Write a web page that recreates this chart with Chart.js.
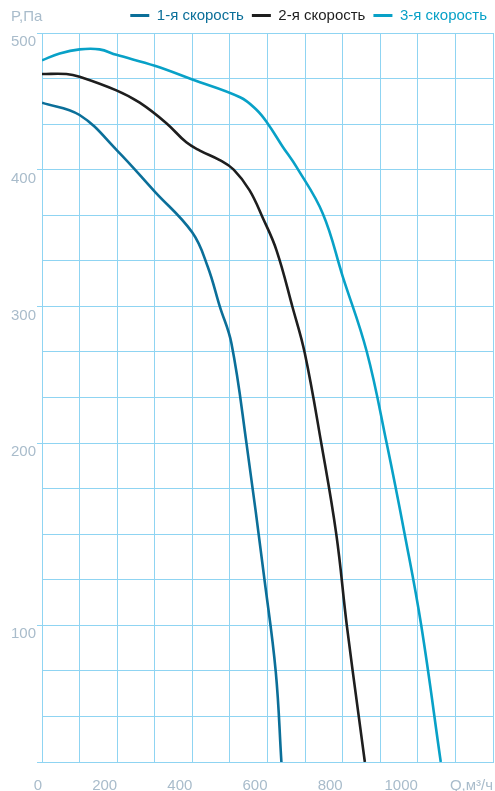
<!DOCTYPE html>
<html>
<head>
<meta charset="utf-8">
<script src="https://cdn.jsdelivr.net/npm/chart.js@4"></script>
<style>
  html, body { margin: 0; padding: 0; background: #fff; }
  #wrap { width: 495px; height: 791px; }
</style>
</head>
<body>
<div id="wrap"><canvas id="chart"></canvas></div>
<script>
// Series names and colours
const seriesNames = ['1-я скорость', '2-я скорость', '3-я скорость'];
const seriesColors = ['#0b6f99', '#1e1e1e', '#08a1c7'];

// Q, м³/ч and P, Па
const speed1Q = [0, 100, 200, 300, 400, 441, 473, 504, 544, 592, 622, 637];
const speed1P = [449, 440, 414, 384, 354, 329, 300, 273, 200, 125, 66, 0];

const speed2Q = [0, 65, 100, 198, 260, 331, 384, 420, 473, 510, 552, 587, 624, 667, 699, 743, 783, 811, 843, 859];
const speed2P = [470, 470, 468, 458, 449, 434, 420, 414, 407, 400, 385, 365, 341, 299, 266, 200, 150, 100, 33, 0];

const speed3Q = [0, 47, 100, 153, 198, 300, 400, 527, 570, 600, 640, 677, 747, 800, 864, 917, 965, 1009, 1061];
const speed3P = [480, 485, 488, 488, 484, 476, 466, 453, 444, 434, 417, 402, 368, 322, 267, 200, 150, 100, 0];

// The pressure axis of the original is not uniform: labelled values sit on these grid rows
const pressureTicks = [0, 100, 200, 300, 400, 500];
const gridRows = [0, 3, 7, 10, 13, 16];

const xTickLabels = { 0: '0', 200: '200', 400: '400', 600: '600', 800: '800', 1000: '1000', 1200: 'Q,м³/ч' };

const gridColor = '#8fd4f2';
const labelColor = '#a9bccb';
const fontFamily = '"Liberation Sans", Arial, sans-serif';

// pressure -> grid row (piecewise linear between labelled rows)
function toRow(p) {
    for (let i = 1; i < pressureTicks.length; i++) {
        if (p <= pressureTicks[i]) {
            const t = (p - pressureTicks[i - 1]) / (pressureTicks[i] - pressureTicks[i - 1]);
            return gridRows[i - 1] + t * (gridRows[i] - gridRows[i - 1]);
        }
    }
    return gridRows[gridRows.length - 1];
}

function makePoints(qs, ps) {
    return qs.map((q, i) => ({ x: q, y: toRow(ps[i]) }));
}

const allSeries = [
    makePoints(speed1Q, speed1P),
    makePoints(speed2Q, speed2P),
    makePoints(speed3Q, speed3P)
];

const axisTitle = {
    id: 'axisTitle',
    afterDraw(chart) {
        const ctx = chart.ctx;
        ctx.save();
        ctx.font = '15px ' + fontFamily;
        ctx.fillStyle = labelColor;
        ctx.textBaseline = 'middle';
        ctx.textAlign = 'left';
        ctx.fillText('P,Па', 11, 17);
        ctx.restore();
    }
};

new Chart(document.getElementById('chart'), {
    type: 'line',
    data: {
        datasets: allSeries.map((pts, i) => ({
            label: seriesNames[i],
            data: pts,
            borderColor: seriesColors[i],
            backgroundColor: seriesColors[i],
            borderWidth: 2.6,
            pointRadius: 0,
            fill: false,
            tension: 0.4
        }))
    },
    options: {
        responsive: true,
        maintainAspectRatio: false,
        animation: false,
        devicePixelRatio: 1,
        layout: { padding: { left: 0, right: 0, top: 0, bottom: 0 } },
        plugins: {
            tooltip: { enabled: false },
            legend: {
                position: 'top',
                align: 'end',
                labels: {
                    boxWidth: 19,
                    boxHeight: 3,
                    padding: 8,
                    font: { family: fontFamily, size: 15 },
                    generateLabels: chart => chart.data.datasets.map((ds, i) => ({
                        text: ds.label,
                        fillStyle: ds.borderColor,
                        strokeStyle: ds.borderColor,
                        lineWidth: 0,
                        fontColor: ds.borderColor,
                        datasetIndex: i,
                        hidden: false
                    }))
                }
            }
        },
        scales: {
            x: {
                type: 'linear',
                min: 0,
                max: 1200,
                afterFit(scale) { scale.height = 29; },
                border: { color: gridColor, width: 1 },
                grid: { color: gridColor, lineWidth: 1, tickLength: 13, tickColor: 'rgba(0,0,0,0)' },
                ticks: {
                    stepSize: 100,
                    autoSkip: false,
                    maxRotation: 0,
                    align: 'end',
                    padding: 2,
                    color: labelColor,
                    font: { family: fontFamily, size: 15 },
                    callback: v => xTickLabels[v] !== undefined ? xTickLabels[v] : ''
                }
            },
            y: {
                type: 'linear',
                min: 0,
                max: 16,
                afterFit(scale) { scale.width = 42; },
                border: { color: gridColor, width: 1 },
                grid: {
                    color: gridColor,
                    lineWidth: 1,
                    tickLength: 5,
                    tickColor: ctx => gridRows.includes(ctx.tick ? ctx.tick.value : -1) ? gridColor : 'rgba(0,0,0,0)'
                },
                ticks: {
                    stepSize: 1,
                    autoSkip: false,
                    padding: 1,
                    labelOffset: 9,
                    color: labelColor,
                    font: { family: fontFamily, size: 15 },
                    callback: v => {
                        const k = gridRows.indexOf(v);
                        return k > 0 ? String(pressureTicks[k]) : '';
                    }
                }
            }
        }
    },
    plugins: [axisTitle]
});
</script>
</body>
</html>
